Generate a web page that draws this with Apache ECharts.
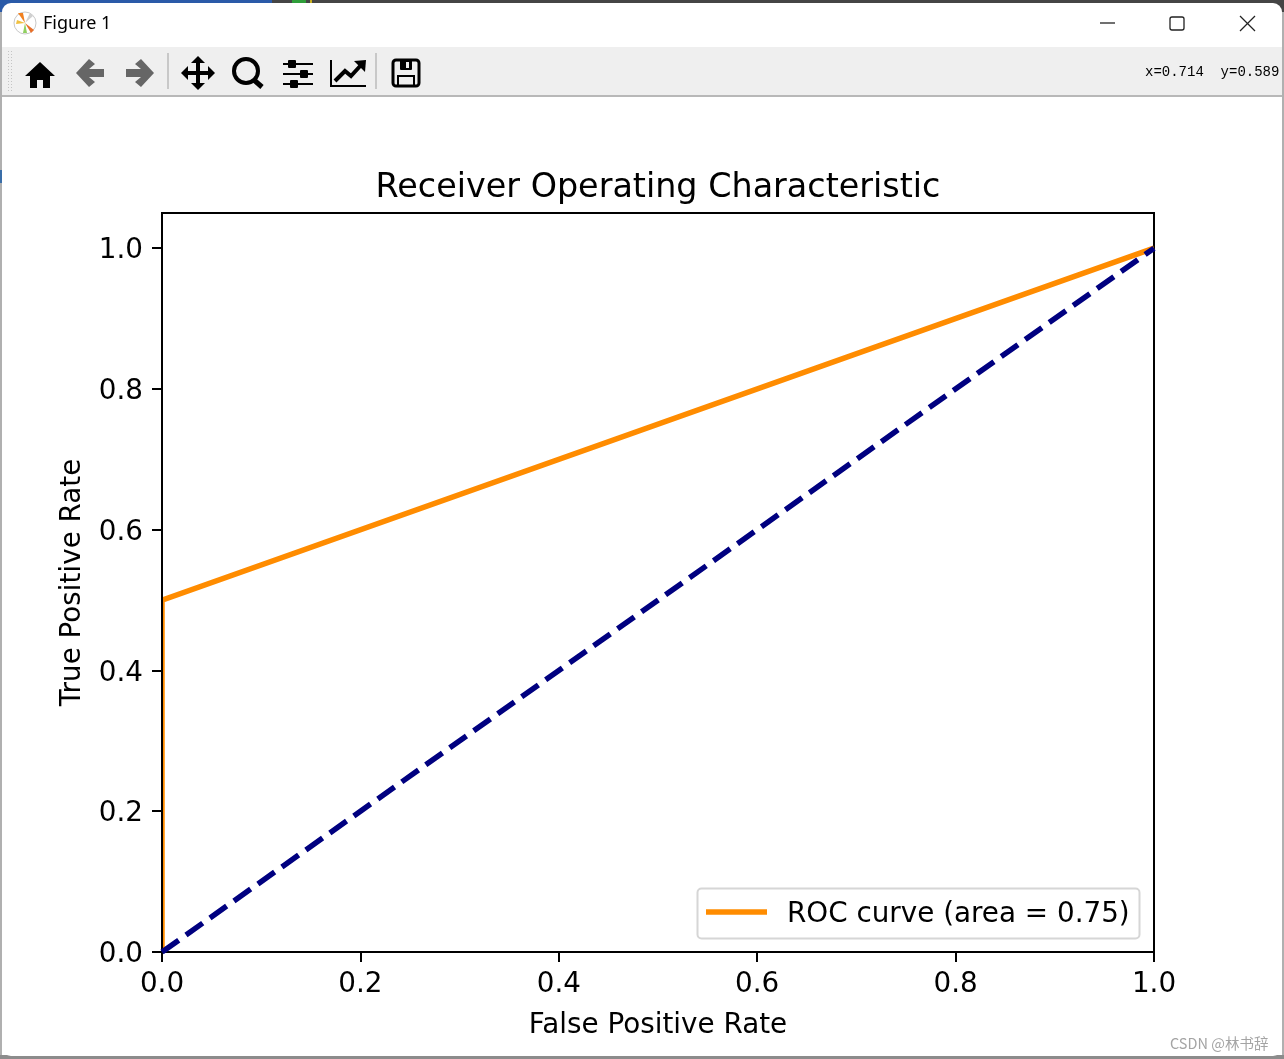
<!DOCTYPE html>
<html><head><meta charset="utf-8">
<style>html,body{margin:0;padding:0;background:#fff;overflow:hidden}#c{width:1284px;height:1059px}</style>
<script src="https://cdn.jsdelivr.net/npm/echarts@6/dist/echarts.min.js"></script></head>
<body><div id="c"></div>
<script>
const rocPoints = [[0,0],[0,0.5],[1,1]];
const chancePoints = [[0,0],[1,1]];
const axisTicks = [0,0.2,0.4,0.6,0.8,1.0];
const titleText = 'Receiver Operating Characteristic';
const xName = 'False Positive Rate';
const yName = 'True Positive Rate';
const legendText = 'ROC curve (area = 0.75)';
const FF = 'DejaVu Sans';
const ICON = '#000';
const chart = echarts.init(document.getElementById('c'),null,{renderer:'canvas'});

function rect(x,y,w,h,fill,r,z){return {type:'rect',silent:true,z:z===undefined?1:z,shape:{x,y,width:w,height:h,r:r||0},style:{fill}};}
function poly(points,fill){return {type:'polygon',silent:true,z:3,shape:{points},style:{fill}};}
function ln(x1,y1,x2,y2,stroke,w){return {type:'line',silent:true,z:3,shape:{x1,y1,x2,y2},style:{stroke,lineWidth:w||1}};}
function txt(x,y,text,font,fill,z){return {type:'text',silent:true,z:z||3,x,y,style:{text,font,fill,textVerticalAlign:'middle'}};}

const grip = [];
[8,11].forEach(x=>{ for(let y=51;y<92;y+=3){ grip.push(rect(x,y,1,1,'#c4c4c4',0,3)); } });

const chrome = [
  // behind the window
  rect(0,0,1284,1059,'#ffffff',0,0),
  rect(0,0,272,12,'#2a5aa8',0,0),
  rect(272,0,1012,12,'#454545',0,0),
  rect(292,0,14,3,'#2f9e3a',0,0),
  rect(310,0,2,3,'#c8b020',0,0),
  rect(0,12,2,1047,'#b0b0b0',0,0),
  rect(1282,12,2,1047,'#b0b0b0',0,0),
  rect(0,1055,1284,4,'#8c8c8c',0,0),
  rect(0,170,2,13,'#3a6ea8',0,0),
  // window
  rect(2,3,1280,1053,'#ffffff',9,0.5),
  rect(2,47,1280,49,'#efefef',0,1),
  rect(2,95,1280,2,'#b8b8b8',0,1),
  {type:'circle',silent:true,z:3,shape:{cx:25,cy:23,r:11},style:{fill:'#fff',stroke:'#c8c8c8',lineWidth:1}},
  poly([[25,23],[18,13],[23,13]],'#f08020'),
  poly([[25,23],[34,30],[31,33]],'#e8702a'),
  poly([[25,23],[16,24],[17,20]],'#f0c040'),
  poly([[25,23],[23,33],[27,33]],'#90d060'),
  poly([[25,23],[30,13],[33,16]],'#d0d0d0'),
  txt(43,24,'Figure 1','18px "Noto Sans"','#000'),
  ln(1100,23,1115,23,'#222',1.3),
  {type:'rect',silent:true,z:3,shape:{x:1170,y:17,width:14,height:13,r:2},style:{fill:'none',stroke:'#222',lineWidth:1.3}},
  ln(1240,16,1255,31,'#222',1.3), ln(1255,16,1240,31,'#222',1.3),
  // home
  poly([[40,62],[55,76],[50,76],[50,88],[43,88],[43,80],[37,80],[37,88],[30,88],[30,76],[25,76]],ICON),
  // back
  poly([[76,73],[89,59],[95,64],[89,69],[104,69],[104,77],[89,77],[95,82],[89,87]],'#666'),
  // forward
  poly([[154,73],[141,59],[135,64],[141,69],[126,69],[126,77],[141,77],[135,82],[141,87]],'#666'),
  ln(168,53,168,89,'#c8c8c8',2),
  // move
  ln(198,60,198,86,ICON,4), ln(184,73,212,73,ICON,4),
  poly([[198,56],[191,63],[205,63]],ICON),poly([[198,90],[191,83],[205,83]],ICON),
  poly([[181,73],[188,66],[188,80]],ICON),poly([[215,73],[208,66],[208,80]],ICON),
  // zoom
  {type:'circle',silent:true,z:3,shape:{cx:246,cy:71,r:12},style:{fill:'none',stroke:ICON,lineWidth:4}},
  ln(254,80,262,87,ICON,5),
  // sliders
  ln(283,64,313,64,ICON,2), ln(283,74,313,74,ICON,2), ln(283,84,313,84,ICON,2),
  rect(288,60,8,8,ICON,1,3), rect(300,70,8,8,ICON,1,3), rect(290,80,8,8,ICON,1,3),
  // chart icon
  ln(331,60,331,87,ICON,2), ln(331,86,366,86,ICON,2),
  {type:'polyline',silent:true,z:3,shape:{points:[[335,81],[345,71],[351,76],[362,64]]},style:{stroke:ICON,lineWidth:4,fill:'none'}},
  poly([[354,61],[366,60],[365,72]],ICON),
  ln(376,53,376,89,'#c8c8c8',2),
  // save
  {type:'rect',silent:true,z:3,shape:{x:393,y:60,width:26,height:26,r:3},style:{fill:'none',stroke:ICON,lineWidth:3}},
  rect(400,60,12,10,ICON,1,3), rect(406,62,3,6,'#efefef',0,4),
  {type:'rect',silent:true,z:3,shape:{x:398,y:76,width:16,height:10},style:{fill:'none',stroke:ICON,lineWidth:2}},
  txt(1145,72,'x=0.714  y=0.589','14px "Liberation Mono"','#000'),
  // keeps the orange line on the inner side of the left spine, as axes clipping does
  rect(155,213,6,739,'#ffffff',0,2.2),
  // legend
  {type:'rect',silent:true,z:20,shape:{x:697.5,y:888.5,width:442,height:50,r:4},style:{fill:'rgba(255,255,255,0.8)',stroke:'#d6d6d6',lineWidth:2}},
  {type:'line',silent:true,z:21,shape:{x1:706,y1:912,x2:767,y2:912},style:{stroke:'#ff8c00',lineWidth:5.5}},
  txt(787,915,legendText,'27.8px "'+FF+'"','#000',21),
  txt(1170,1043,'CSDN @林书辞','14.5px "Noto Sans CJK SC"','#a4a4a4',21),
].concat(grip);

const axisCommon = {
  z:2.5,
  nameLocation:'middle',
  nameTextStyle:{fontFamily:FF,fontSize:27.8,color:'#000'},
  axisLine:{show:true,lineStyle:{color:'#000',width:2}},
  axisTick:{show:true,length:10,lineStyle:{color:'#000',width:2},customValues:axisTicks},
  splitLine:{show:false}
};
chart.setOption({
  animation:false,
  backgroundColor:'#ffffff',
  textStyle:{fontFamily:FF},
  title:{text:titleText,left:653,top:167,textAlign:'center',textStyle:{fontFamily:FF,fontSize:33.4,fontWeight:'normal',color:'#000'}},
  grid:{z:1,left:162,top:213,width:992,height:739,containLabel:false,show:true,borderColor:'#000',borderWidth:2,backgroundColor:'transparent'},
  xAxis:Object.assign({},axisCommon,{type:'value',min:0,max:1,interval:0.2,name:xName,nameGap:60,
    axisLabel:{show:true,fontFamily:FF,fontSize:27.8,color:'#000',margin:19,formatter:v=>v.toFixed(1),customValues:axisTicks}}),
  yAxis:Object.assign({},axisCommon,{type:'value',min:0,max:1.05,interval:0.2,name:yName,nameGap:75,nameRotate:90,
    axisLabel:{show:true,fontFamily:FF,fontSize:27.8,color:'#000',margin:19,verticalAlign:'top',lineHeight:6,formatter:v=>v.toFixed(1),customValues:axisTicks}}),
  series:[
    {type:'line',name:legendText,data:rocPoints,symbol:'none',clip:true,lineStyle:{color:'#ff8c00',width:5.5,join:'miter'},z:2},
    {type:'line',name:'chance',data:chancePoints,symbol:'none',clip:true,lineStyle:{color:'#000080',width:5.5,type:[20.5,8.9]},z:3}
  ],
  graphic:{elements:chrome}
});
</script></body></html>
